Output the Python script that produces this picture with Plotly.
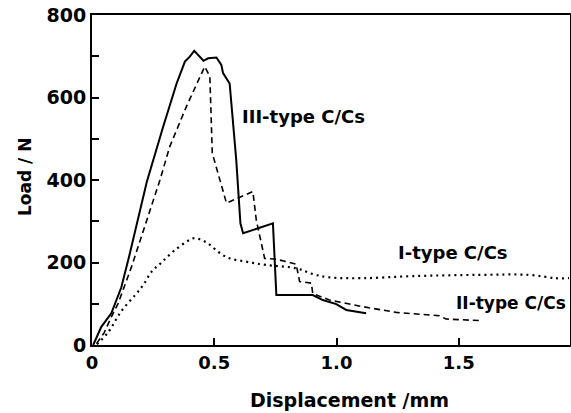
import plotly.graph_objects as go

# III-type C/Cs (solid)
x3 = [0.005, 0.038, 0.079, 0.120, 0.152, 0.187, 0.224, 0.291, 0.346, 0.380, 0.400, 0.418, 0.440, 0.456,
      0.475, 0.509, 0.529, 0.536, 0.563, 0.577, 0.590, 0.607, 0.618, 0.740, 0.754, 0.849, 0.903, 0.944,
      0.999, 1.040, 1.121]
y3 = [0, 44, 77, 140, 215, 305, 395, 529, 634, 687, 699, 713, 699, 689,
      695, 697, 679, 659, 634, 545, 448, 295, 271, 295, 121, 121, 121, 109,
      99, 85, 77]

# II-type C/Cs (dashed)
x2 = [0.019, 0.050, 0.080, 0.107, 0.162, 0.223, 0.278, 0.318, 0.386, 0.461, 0.482, 0.492, 0.522, 0.550,
      0.658, 0.672, 0.706, 0.754, 0.835, 0.849, 0.897, 0.903, 0.971, 1.107, 1.244, 1.420, 1.448, 1.590]
y2 = [4, 30, 69, 101, 190, 303, 400, 481, 578, 675, 651, 465, 400, 344,
      372, 303, 210, 208, 196, 154, 150, 125, 109, 93, 79, 71, 63, 59]

# I-type C/Cs (dotted)
x1 = [0.020, 0.065, 0.120, 0.176, 0.209, 0.244, 0.284, 0.339, 0.400, 0.420, 0.461, 0.550, 0.631, 0.713,
      0.835, 0.903, 0.971, 1.107, 1.312, 1.584, 1.788, 1.897, 1.951]
y1 = [2, 30, 82, 121, 145, 178, 200, 230, 255, 259, 251, 213, 202, 194,
      186, 172, 164, 162, 167, 170, 170, 162, 162]

ytick_vals = [0, 100, 200, 300, 400, 500, 600, 700, 800]
ytick_text = ["0", "", "200", "", "400", "", "600", "", "800"]
xtick_vals = [0, 0.5, 1.0, 1.5]
xtick_text = ["0", "0.5", "1.0", "1.5"]

labels = ["III-type C/Cs", "I-type C/Cs", "II-type C/Cs"]
label_x = [0.606, 1.245, 1.482]
label_y = [553, 225, 102]
label_size = [18, 18, 17]

FONT = "DejaVu Sans"
W, H = 571, 413
L, R, T, B = 92, 1, 15, 68
PW, PH = W - L - R, H - T - B

fig = go.Figure()
fig.add_trace(go.Scatter(x=x3, y=y3, mode="lines", line=dict(color="black", width=2)))
fig.add_trace(go.Scatter(x=x2, y=y2, mode="lines", line=dict(color="black", width=1.6, dash="6px,4px")))
fig.add_trace(go.Scatter(x=x1, y=y1, mode="lines", line=dict(color="black", width=2.2, dash="2px,4px"),
                         line_shape="spline"))

for t, lx, ly, s in zip(labels, label_x, label_y, label_size):
    fig.add_annotation(x=lx, y=ly, text=t, showarrow=False, xanchor="left", yanchor="middle",
                       font=dict(family=FONT, size=s, color="black", weight="bold"))

fig.add_annotation(xref="paper", yref="paper", x=(349 - L) / PW, y=-(400 - (H - B)) / PH,
                   xanchor="center", yanchor="middle", text="Displacement /mm", showarrow=False,
                   font=dict(family=FONT, size=19, color="black", weight="bold"))
fig.add_annotation(xref="paper", yref="paper", x=-(L - 25) / PW, y=((H - B) - 177) / PH,
                   xanchor="center", yanchor="middle", text="Load / N", showarrow=False, textangle=-90,
                   font=dict(family=FONT, size=17, color="black", weight="bold"))

fig.update_layout(
    width=W, height=H, margin=dict(l=L, r=R, t=T, b=B, autoexpand=False),
    paper_bgcolor="white", plot_bgcolor="white", showlegend=False,
    font=dict(family=FONT, color="black"),
)
fig.update_xaxes(range=[0, 1.955], tickvals=xtick_vals, ticktext=xtick_text, ticks="inside", ticklen=7,
                 tickwidth=1.5, tickcolor="black", showgrid=False, zeroline=False, showline=True,
                 linecolor="black", linewidth=2, mirror=True, automargin=False,
                 tickfont=dict(size=18, weight="bold"))
fig.update_yaxes(range=[0, 800], tickvals=ytick_vals, ticktext=ytick_text, ticks="inside", ticklen=7,
                 tickwidth=1.5, tickcolor="black", showgrid=False, zeroline=False, showline=True,
                 linecolor="black", linewidth=2, mirror=True, automargin=False,
                 tickfont=dict(size=19, weight="bold"))

fig.write_html("out.html", config={"displayModeBar": False},
               post_script="document.body.style.margin='0';")
